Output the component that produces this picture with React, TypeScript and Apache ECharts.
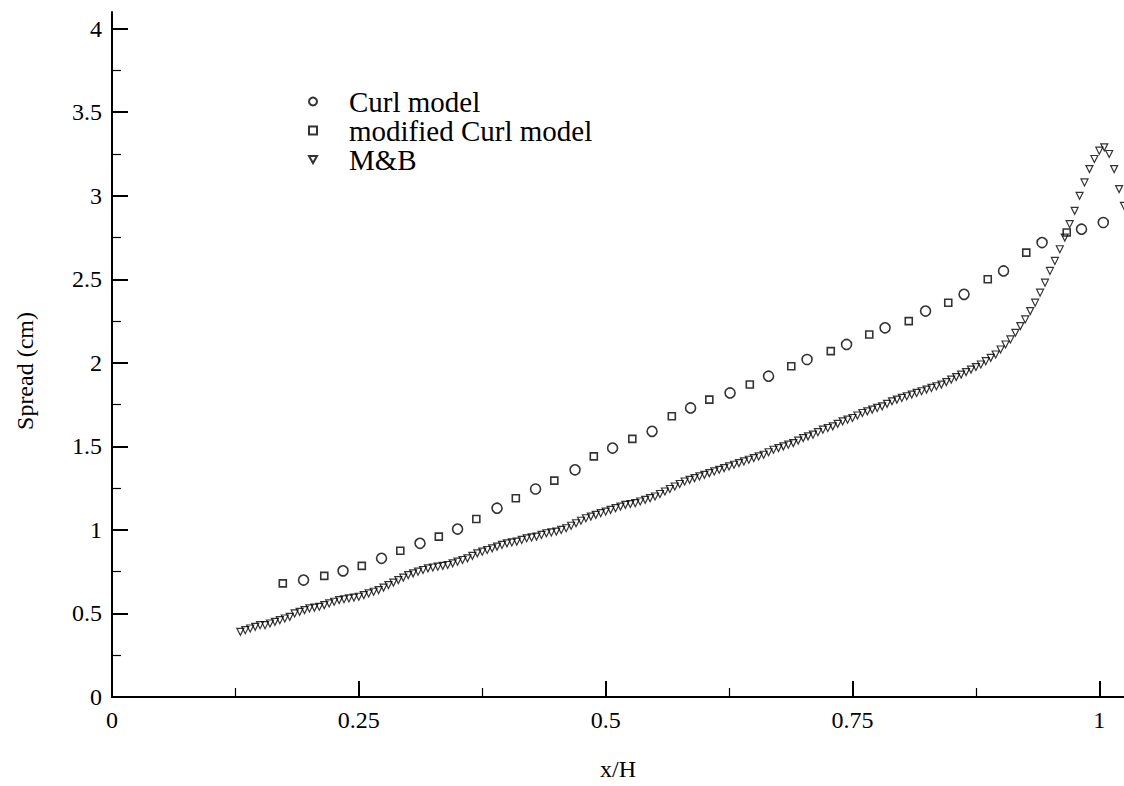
import { useEffect, useRef } from 'react';
import * as echarts from 'echarts';

// ---- tick values ----
const xMajorTicks = [0, 0.25, 0.5, 0.75, 1];
const xMinorTicks = [0.125, 0.375, 0.625, 0.875];
const yMajorTicks = [0, 0.5, 1, 1.5, 2, 2.5, 3, 3.5, 4];
const yMinorTicks = [0.25, 0.75, 1.25, 1.75, 2.25, 2.75, 3.25, 3.75];

// ---- Curl model (circles) ----
const curlX = [0.194, 0.234, 0.273, 0.312, 0.35, 0.39, 0.429, 0.469, 0.507, 0.547, 0.586, 0.626, 0.665, 0.704, 0.744, 0.783, 0.824, 0.863, 0.903, 0.942, 0.982, 1.004];
const curlY = [0.7, 0.755, 0.83, 0.92, 1.005, 1.13, 1.245, 1.36, 1.49, 1.59, 1.73, 1.82, 1.92, 2.02, 2.11, 2.21, 2.31, 2.41, 2.55, 2.72, 2.8, 2.84];

// ---- modified Curl model (squares) ----
const modX = [0.173, 0.215, 0.253, 0.292, 0.331, 0.369, 0.409, 0.448, 0.488, 0.527, 0.567, 0.605, 0.646, 0.688, 0.728, 0.767, 0.807, 0.847, 0.887, 0.926, 0.967];
const modY = [0.68, 0.725, 0.785, 0.875, 0.96, 1.065, 1.19, 1.295, 1.44, 1.545, 1.68, 1.78, 1.87, 1.98, 2.07, 2.17, 2.25, 2.36, 2.5, 2.66, 2.78];

// ---- M&B (triangles) ----
const mbX = [
  0.13, 0.135, 0.14, 0.145, 0.15, 0.155, 0.16, 0.165, 0.17, 0.175, 0.18, 0.185, 0.19, 0.195, 0.2, 0.205, 0.21, 0.215, 0.22, 0.225,
  0.23, 0.235, 0.24, 0.245, 0.25, 0.255, 0.26, 0.265, 0.27, 0.275, 0.28, 0.285, 0.29, 0.295, 0.3, 0.305, 0.31, 0.315, 0.32, 0.325,
  0.33, 0.335, 0.34, 0.345, 0.35, 0.355, 0.36, 0.365, 0.37, 0.375, 0.38, 0.385, 0.39, 0.395, 0.4, 0.405, 0.41, 0.415, 0.42, 0.425,
  0.43, 0.435, 0.44, 0.445, 0.45, 0.455, 0.46, 0.465, 0.47, 0.475, 0.48, 0.485, 0.49, 0.495, 0.5, 0.505, 0.51, 0.515, 0.52, 0.525,
  0.53, 0.535, 0.54, 0.545, 0.55, 0.555, 0.56, 0.565, 0.57, 0.575, 0.58, 0.585, 0.59, 0.595, 0.6, 0.605, 0.61, 0.615, 0.62, 0.625,
  0.63, 0.635, 0.64, 0.645, 0.65, 0.655, 0.66, 0.665, 0.67, 0.675, 0.68, 0.685, 0.69, 0.695, 0.7, 0.705, 0.71, 0.715, 0.72, 0.725,
  0.73, 0.735, 0.74, 0.745, 0.75, 0.755, 0.76, 0.765, 0.77, 0.775, 0.78, 0.785, 0.79, 0.795, 0.8, 0.805, 0.81, 0.815, 0.82, 0.825,
  0.83, 0.835, 0.84, 0.845, 0.85, 0.855, 0.86, 0.865, 0.87, 0.875, 0.88, 0.885, 0.89, 0.895, 0.9, 0.905, 0.91, 0.915, 0.92, 0.925,
  0.93, 0.935, 0.94, 0.945, 0.95, 0.955, 0.96, 0.965, 0.97, 0.975, 0.98, 0.985, 0.99, 0.995, 1.0, 1.005, 1.01, 1.015, 1.02, 1.025,
];
const mbY = [
  0.39, 0.4, 0.41, 0.42, 0.43, 0.43, 0.44, 0.45, 0.46, 0.47, 0.48, 0.5, 0.51, 0.52, 0.53, 0.535, 0.54, 0.55, 0.56, 0.57,
  0.58, 0.585, 0.59, 0.595, 0.6, 0.61, 0.62, 0.63, 0.64, 0.655, 0.67, 0.685, 0.7, 0.715, 0.73, 0.74, 0.75, 0.76, 0.77, 0.775,
  0.78, 0.785, 0.79, 0.8, 0.81, 0.82, 0.83, 0.845, 0.86, 0.87, 0.88, 0.89, 0.9, 0.91, 0.92, 0.925, 0.93, 0.94, 0.95, 0.955,
  0.96, 0.97, 0.98, 0.985, 0.99, 1.0, 1.01, 1.025, 1.04, 1.055, 1.07, 1.08, 1.09, 1.1, 1.11, 1.12, 1.13, 1.14, 1.15, 1.155,
  1.16, 1.17, 1.18, 1.19, 1.2, 1.215, 1.23, 1.245, 1.26, 1.275, 1.29, 1.3, 1.31, 1.32, 1.33, 1.34, 1.35, 1.36, 1.37, 1.38,
  1.39, 1.4, 1.41, 1.42, 1.43, 1.44, 1.45, 1.465, 1.48, 1.49, 1.5, 1.51, 1.52, 1.535, 1.55, 1.56, 1.57, 1.585, 1.6, 1.61,
  1.62, 1.635, 1.65, 1.66, 1.67, 1.685, 1.7, 1.71, 1.72, 1.73, 1.74, 1.755, 1.77, 1.78, 1.79, 1.8, 1.81, 1.82, 1.83, 1.84,
  1.85, 1.86, 1.87, 1.885, 1.9, 1.915, 1.93, 1.945, 1.96, 1.975, 1.99, 2.01, 2.03, 2.05, 2.08, 2.11, 2.14, 2.18, 2.22, 2.26,
  2.31, 2.36, 2.42, 2.48, 2.55, 2.61, 2.68, 2.75, 2.83, 2.91, 3.0, 3.08, 3.16, 3.22, 3.27, 3.29, 3.25, 3.16, 3.04, 2.94,
];

const zip = (xs: number[], ys: number[]) => xs.map((x, i) => [x, ys[i]]);

const SERIF = '"Liberation Serif", "Times New Roman", serif';
const X_MAX = 1.025;
const Y_MAX = 4.1;

export default function App() {
  const ref = useRef<HTMLDivElement>(null);

  useEffect(() => {
    if (!ref.current) return;
    const chart = echarts.init(ref.current, null, { renderer: 'svg' });

    const baseX = {
      type: 'value' as const,
      min: 0,
      max: X_MAX,
      position: 'bottom' as const,
      gridIndex: 0,
      splitLine: { show: false },
    };
    const baseY = {
      type: 'value' as const,
      min: 0,
      max: Y_MAX,
      position: 'left' as const,
      gridIndex: 0,
      splitLine: { show: false },
    };

    chart.setOption({
      animation: false,
      backgroundColor: '#fff',
      grid: { left: 112, top: 12, width: 1013, height: 685 },
      xAxis: [
        {
          ...baseX,
          axisLine: { show: true, lineStyle: { color: '#000', width: 2 } },
          axisTick: { show: true, inside: true, length: 16, customValues: xMajorTicks, lineStyle: { color: '#000', width: 2 } },
          axisLabel: { show: true, customValues: xMajorTicks, fontFamily: SERIF, fontSize: 24, color: '#000', margin: 11 },
          name: 'x/H',
          nameLocation: 'middle',
          nameGap: 60,
          nameTextStyle: { fontFamily: SERIF, fontSize: 24, color: '#000' },
        },
        {
          ...baseX,
          axisLine: { show: false },
          axisTick: { show: true, inside: true, length: 9, customValues: xMinorTicks, lineStyle: { color: '#000', width: 1.2 } },
          axisLabel: { show: false },
        },
      ],
      yAxis: [
        {
          ...baseY,
          axisLine: { show: true, lineStyle: { color: '#000', width: 2 } },
          axisTick: { show: true, inside: true, length: 16, customValues: yMajorTicks, lineStyle: { color: '#000', width: 2 } },
          axisLabel: { show: true, customValues: yMajorTicks, fontFamily: SERIF, fontSize: 24, color: '#000', margin: 10 },
        },
        {
          ...baseY,
          axisLine: { show: false },
          axisTick: { show: true, inside: true, length: 9, customValues: yMinorTicks, lineStyle: { color: '#000', width: 1.2 } },
          axisLabel: { show: false },
        },
      ],
      legend: {
        orient: 'vertical',
        left: 308,
        top: 87,
        padding: 0,
        itemGap: 0,
        itemWidth: 8,
        itemHeight: 8,
        textStyle: { fontFamily: SERIF, fontSize: 29, lineHeight: 29, color: '#000', padding: [0, 0, 0, 27] },
        data: [
          { name: 'Curl model' },
          { name: 'modified Curl model' },
          { name: 'M&B', icon: 'path://M0,0L10,0L5,9Z' },
        ],
      },
      graphic: [
        {
          type: 'text',
          x: 25,
          y: 371,
          rotation: Math.PI / 2,
          style: {
            text: 'Spread (cm)',
            font: `24px ${SERIF}`,
            fill: '#000',
            textAlign: 'center',
            textVerticalAlign: 'middle',
          },
        },
      ],
      series: [
        {
          name: 'M&B',
          type: 'scatter',
          xAxisIndex: 0,
          yAxisIndex: 0,
          symbol: 'triangle',
          symbolRotate: 180,
          symbolKeepAspect: true,
          symbolSize: 7,
          itemStyle: { color: 'rgba(0,0,0,0)', borderColor: '#000', borderWidth: 1.2 },
          data: zip(mbX, mbY),
        },
        {
          name: 'modified Curl model',
          type: 'scatter',
          xAxisIndex: 0,
          yAxisIndex: 0,
          symbol: 'rect',
          symbolKeepAspect: true,
          symbolSize: 7,
          itemStyle: { color: 'rgba(0,0,0,0)', borderColor: '#000', borderWidth: 1.6 },
          data: zip(modX, modY),
        },
        {
          name: 'Curl model',
          type: 'scatter',
          xAxisIndex: 0,
          yAxisIndex: 0,
          symbol: 'circle',
          symbolSize: 10,
          itemStyle: { color: 'rgba(0,0,0,0)', borderColor: '#000', borderWidth: 1.6 },
          data: zip(curlX, curlY),
        },
      ],
    });

    return () => chart.dispose();
  }, []);

  return (
    <div
      ref={ref}
      style={{ position: 'absolute', left: 0, top: 0, width: 1124, height: 786, background: '#fff' }}
    />
  );
}
